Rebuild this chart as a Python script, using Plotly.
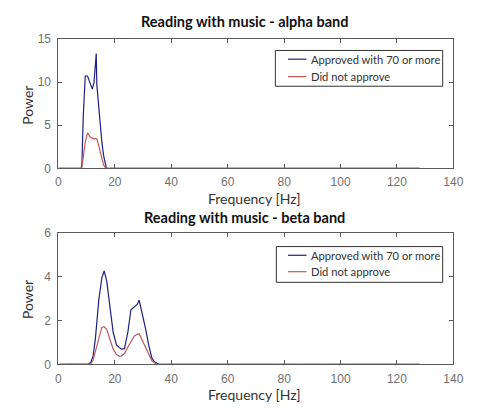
import plotly.graph_objects as go

# ---- data ----
alpha_freq = [0, 8.0, 8.3, 8.8, 9.5, 10.3, 11.4, 12.0, 12.6, 13.2, 13.4, 13.6, 14.3, 14.9, 15.4,
              16.0, 16.6, 17.0, 128]
alpha_approved = [0, 0, 0.3, 6.0, 10.7, 10.7, 9.7, 9.2, 9.9, 12.0, 13.3, 9.7, 6.75, 4.8, 3.0,
                  1.5, 0.4, 0, 0]
alpha_not = [0, 0, 0.1, 1.2, 3.0, 4.1, 3.55, 3.5, 3.4, 3.45, 3.4, 3.4, 2.6, 1.9, 1.2,
             0.4, 0.1, 0, 0]

beta_freq = [0, 10.5, 11.5, 12.3, 13.1, 14.3, 15.4, 16.2, 17.1, 18.3, 19.4, 20.6, 21.7, 22.3,
             23.4, 24.6, 25.7, 26.9, 28.0, 28.6, 29.7, 30.9, 32.0, 33.1, 34.0, 34.9, 35.8, 128]
beta_approved = [0, 0, 0.1, 0.4, 1.18, 2.94, 3.97, 4.27, 3.82, 2.65, 1.47, 0.88, 0.75, 0.7,
                 0.72, 1.47, 2.5, 2.65, 2.75, 2.94, 2.35, 1.62, 0.88, 0.3, 0.12, 0.05, 0, 0]
beta_not = [0, 0, 0.03, 0.2, 0.55, 1.18, 1.69, 1.72, 1.6, 1.15, 0.7, 0.45, 0.37, 0.38,
            0.5, 0.8, 1.05, 1.3, 1.38, 1.4, 1.1, 0.75, 0.44, 0.18, 0.08, 0.02, 0, 0]

series_names = ["Approved with 70 or more", "Did not approve"]
titles = ["Reading with music - alpha band", "Reading with music - beta band"]
x_ticks = [0, 20, 40, 60, 80, 100, 120, 140]
alpha_y_ticks = [0, 5, 10, 15]
beta_y_ticks = [0, 2, 4, 6]

BLUE = "#1f1f80"
RED = "#c05a5a"
AX = "#5a5a5a"
W, H = 477, 413

def px_x(p):
    return p / W

def px_y(p):
    return 1 - p / H

fig = go.Figure()
fig.add_trace(go.Scatter(x=alpha_freq, y=alpha_approved, mode="lines", name=series_names[0],
                         line=dict(color=BLUE, width=1.2), xaxis="x", yaxis="y"))
fig.add_trace(go.Scatter(x=alpha_freq, y=alpha_not, mode="lines", name=series_names[1],
                         line=dict(color=RED, width=1.2), xaxis="x", yaxis="y"))
fig.add_trace(go.Scatter(x=beta_freq, y=beta_approved, mode="lines", name=series_names[0],
                         line=dict(color=BLUE, width=1.2), xaxis="x2", yaxis="y2"))
fig.add_trace(go.Scatter(x=beta_freq, y=beta_not, mode="lines", name=series_names[1],
                         line=dict(color=RED, width=1.2), xaxis="x2", yaxis="y2"))

x0, x1 = px_x(57), px_x(463)

axis_common = dict(showline=True, mirror="ticks", linecolor=AX, linewidth=1, ticks="inside",
                   ticklen=4, tickcolor=AX, showgrid=False, zeroline=False,
                   tickfont=dict(family="Liberation Sans", size=12, color="#707070"))

fig.update_layout(
    width=W, height=H, margin=dict(l=0, r=0, t=0, b=0),
    paper_bgcolor="white", plot_bgcolor="white", showlegend=False,
    xaxis=dict(domain=[x0, x1], range=[0, 140], tickvals=x_ticks, anchor="y",
               ticklabelstandoff=2, **axis_common),
    yaxis=dict(domain=[px_y(167), px_y(33)], range=[0, 15], tickvals=alpha_y_ticks, anchor="x",
               ticklabelstandoff=4, **axis_common),
    xaxis2=dict(domain=[x0, x1], range=[0, 140], tickvals=x_ticks, anchor="y2",
                ticklabelstandoff=3, **axis_common),
    yaxis2=dict(domain=[px_y(370), px_y(234)], range=[0, 6], tickvals=beta_y_ticks, anchor="x2",
                ticklabelstandoff=4, **axis_common),
)

ann = []
shapes = []
for t, ypx in zip(titles, [15, 218]):
    ann.append(dict(text="<b>" + t + "</b>", x=px_x(248), y=px_y(ypx), xref="paper", yref="paper",
                    xanchor="center", yanchor="middle", showarrow=False,
                    font=dict(family="Lato", size=14.5, color="#111")))
for ypx in [198, 401]:
    ann.append(dict(text="Frequency [Hz]", x=px_x(259), y=px_y(ypx), xref="paper", yref="paper",
                    xanchor="center", yanchor="middle", showarrow=False,
                    font=dict(family="Lato", size=14, color="#333")))
for ypx in [102, 303]:
    ann.append(dict(text="Power", x=px_x(25), y=px_y(ypx), xref="paper", yref="paper",
                    xanchor="center", yanchor="middle", textangle=-90, showarrow=False,
                    font=dict(family="Lato", size=14, color="#333")))

# manual legends (box, sample lines, labels)
legend_boxes = [(280, 452, 45, 82, [54, 72]), (281, 452, 248, 285, [257, 274])]
for (lx0, lx1, ly0, ly1, rows) in legend_boxes:
    shapes.append(dict(type="rect", xref="paper", yref="paper", x0=px_x(lx0), x1=px_x(lx1),
                       y0=px_y(ly1), y1=px_y(ly0), line=dict(color="#333", width=1),
                       fillcolor="white", layer="above"))
    for name, col, ry in zip(series_names, [BLUE, RED], rows):
        shapes.append(dict(type="line", xref="paper", yref="paper", x0=px_x(293), x1=px_x(312),
                           y0=px_y(ry), y1=px_y(ry), line=dict(color=col, width=1.2), layer="above"))
        ann.append(dict(text=name, x=px_x(315), y=px_y(ry), xref="paper", yref="paper",
                        xanchor="left", yanchor="middle", showarrow=False,
                        font=dict(family="Lato", size=11.2, color="#333")))

fig.update_layout(annotations=ann, shapes=shapes)

fig.write_html("out.html")
